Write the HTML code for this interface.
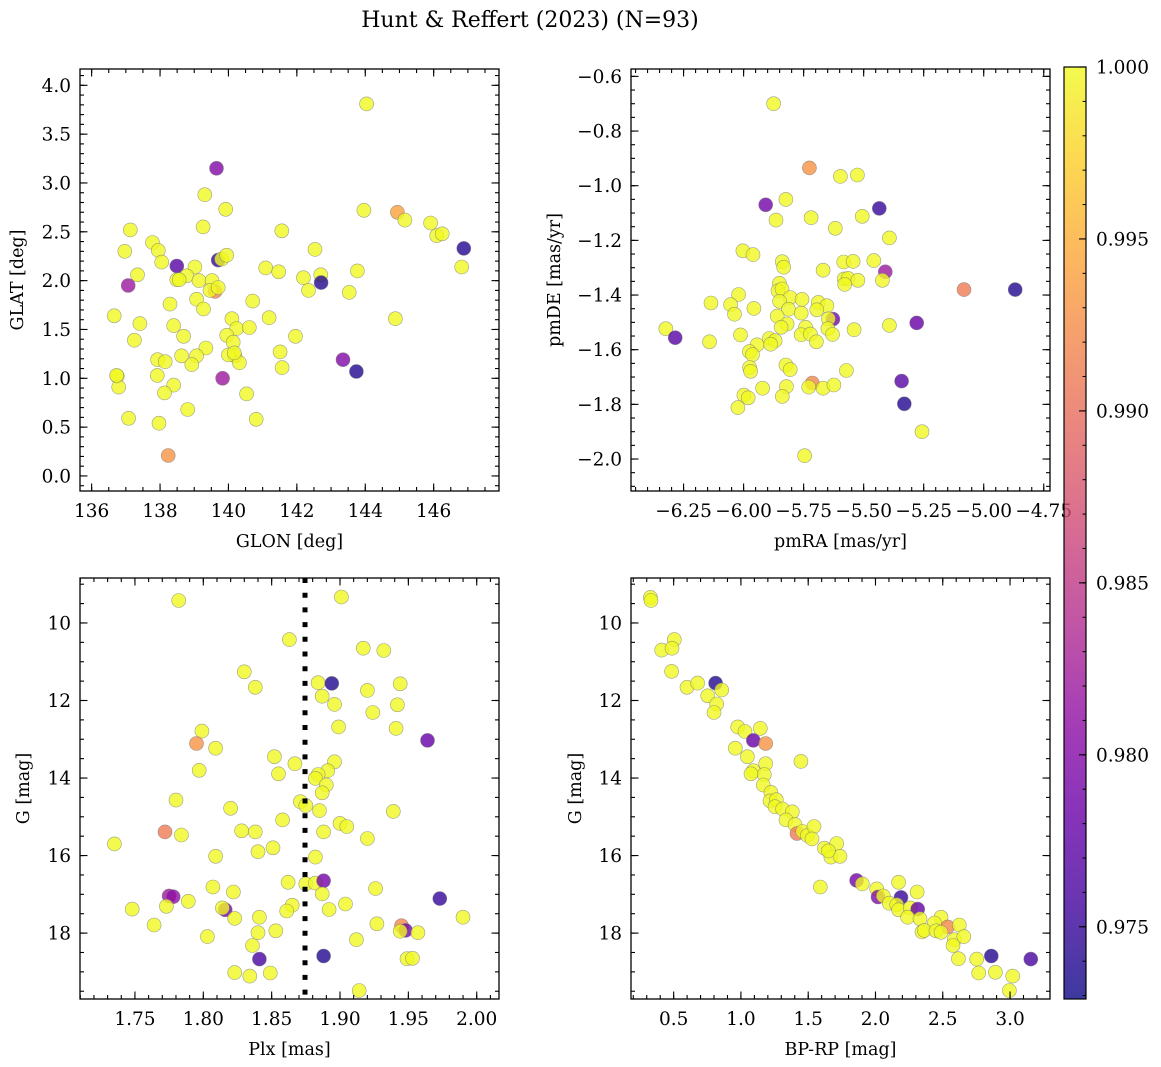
<!DOCTYPE html>
<html><head><meta charset="utf-8">
<style>
html,body{margin:0;padding:0;background:#fff;}
svg{display:block;font-family:"DejaVu Serif","Liberation Serif",serif;}
</style></head>
<body>
<svg id="fig" width="1161" height="1067" viewBox="0 0 1161 1067" xmlns="http://www.w3.org/2000/svg">
<text x="530" y="27" text-anchor="middle" font-size="22">Hunt &amp; Reffert (2023) (N=93)</text>
</svg>
<script>
// ---- Panel 1: GLON vs GLAT ----
const p1Lon=[144.04,139.65,139.31,139.92,143.96,144.94,145.16,145.91,146.09,146.25,146.88,146.82,139.26,137.13,141.56,137.78,137.95,136.97,138.05,142.53,139.70,139.80,139.95,138.49,139.02,138.78,137.34,141.09,141.47,142.19,142.70,142.71,143.77,142.34,143.53,137.07,138.49,138.56,139.14,139.52,139.61,139.46,139.70,140.71,139.07,138.29,139.27,136.66,144.88,140.10,141.19,140.24,140.61,137.41,138.40,138.69,141.96,139.95,140.14,137.25,139.34,141.51,140.19,139.07,138.63,137.93,138.15,140.32,138.93,141.57,143.35,143.74,136.75,136.79,137.92,139.83,138.40,138.13,140.53,138.81,137.08,140.81,137.97,138.24,136.73,140.00,140.17];
const p1Lat=[3.81,3.15,2.88,2.73,2.72,2.70,2.62,2.59,2.46,2.48,2.33,2.14,2.55,2.52,2.51,2.39,2.31,2.30,2.19,2.32,2.21,2.22,2.26,2.15,2.14,2.05,2.06,2.13,2.09,2.03,2.06,1.98,2.10,1.90,1.88,1.95,2.01,2.01,2.00,2.00,1.89,1.90,1.93,1.79,1.81,1.76,1.71,1.64,1.61,1.61,1.62,1.51,1.52,1.56,1.54,1.43,1.43,1.44,1.37,1.39,1.31,1.27,1.23,1.23,1.23,1.19,1.17,1.16,1.14,1.11,1.19,1.07,1.02,0.91,1.03,1.00,0.93,0.85,0.84,0.68,0.59,0.58,0.54,0.21,1.03,1.24,1.26];
const p1C=[1,0.980,1,1,1,0.994,1,1,1,1,0.974,1,1,1,1,1,1,1,1,1,0.975,1,1,0.977,1,1,1,1,1,1,1,0.974,1,1,1,0.982,1,1,1,1,0.992,1,1,1,1,1,1,1,1,1,1,1,1,1,1,1,1,1,1,1,1,1,1,1,1,1,1,1,1,1,0.980,0.974,1,1,1,0.982,1,1,1,1,1,1,1,0.993,1,1,1];
const p1XTicks=[136,138,140,142,144,146];
const p1YTicks=[0.0,0.5,1.0,1.5,2.0,2.5,3.0,3.5,4.0];

// ---- Panel 2: pmRA vs pmDE ----
const p2RA=[-5.875,-5.726,-5.597,-5.526,-5.908,-5.824,-5.435,-5.865,-5.719,-5.506,-5.618,-5.393,-6.003,-5.961,-5.839,-5.833,-5.669,-5.583,-5.544,-5.458,-5.410,-5.422,-5.581,-5.565,-5.524,-5.579,-5.082,-4.869,-5.851,-5.857,-5.840,-6.021,-6.136,-6.054,-6.038,-5.957,-5.806,-5.850,-5.757,-5.689,-5.653,-5.813,-5.760,-5.695,-5.860,-5.628,-5.647,-5.279,-5.393,-5.540,-6.324,-6.285,-6.142,-6.013,-5.819,-5.844,-5.742,-5.760,-5.722,-5.697,-5.649,-5.630,-5.944,-5.893,-5.869,-5.887,-5.976,-5.963,-5.975,-5.971,-5.824,-5.806,-5.572,-5.342,-5.714,-5.729,-5.669,-5.624,-5.822,-5.839,-5.921,-5.999,-5.981,-6.024,-5.331,-5.257,-5.746];
const p2DE=[-0.700,-0.935,-0.966,-0.961,-1.070,-1.050,-1.083,-1.126,-1.117,-1.112,-1.156,-1.191,-1.238,-1.252,-1.278,-1.298,-1.309,-1.279,-1.277,-1.274,-1.315,-1.346,-1.341,-1.339,-1.346,-1.361,-1.380,-1.380,-1.357,-1.384,-1.378,-1.398,-1.429,-1.435,-1.470,-1.449,-1.409,-1.423,-1.416,-1.427,-1.439,-1.452,-1.466,-1.454,-1.477,-1.488,-1.487,-1.502,-1.511,-1.527,-1.523,-1.556,-1.571,-1.546,-1.506,-1.518,-1.518,-1.545,-1.543,-1.571,-1.523,-1.544,-1.582,-1.559,-1.567,-1.580,-1.607,-1.618,-1.665,-1.679,-1.656,-1.673,-1.676,-1.715,-1.722,-1.737,-1.741,-1.729,-1.735,-1.771,-1.741,-1.766,-1.776,-1.812,-1.798,-1.900,-1.988];
const p2C=[1,0.993,1,1,0.979,1,0.975,1,1,1,1,1,1,1,1,1,1,1,1,1,0.982,1,1,1,1,1,0.991,0.974,1,1,1,1,1,1,1,1,1,1,1,1,1,1,1,1,1,0.979,1,0.978,1,1,1,0.977,1,1,1,1,1,1,1,1,1,1,1,1,1,1,1,1,1,1,1,1,1,0.977,0.992,1,1,1,1,1,1,1,1,1,0.974,1,1];
const p2XTicks=[-6.25,-6.00,-5.75,-5.50,-5.25,-5.00,-4.75];
const p2YTicks=[-2.0,-1.8,-1.6,-1.4,-1.2,-1.0,-0.8,-0.6];

// ---- Panel 3: Plx vs G ----
const p3Plx=[1.782,1.901,1.863,1.917,1.932,1.830,1.838,1.884,1.894,1.887,1.920,1.944,1.896,1.942,1.924,1.899,1.941,1.799,1.795,1.809,1.964,1.852,1.867,1.896,1.891,1.855,1.884,1.882,1.890,1.887,1.797,1.780,1.820,1.871,1.875,1.885,1.858,1.939,1.900,1.905,1.888,1.828,1.838,1.772,1.784,1.735,1.920,1.851,1.840,1.809,1.882,1.862,1.875,1.882,1.888,1.926,1.807,1.822,1.775,1.778,1.887,1.789,1.773,1.748,1.865,1.861,1.904,1.892,1.973,1.816,1.814,1.823,1.841,1.990,1.764,1.927,1.945,1.948,1.944,1.957,1.803,1.840,1.853,1.912,1.836,1.841,1.888,1.949,1.953,1.823,1.834,1.849,1.914];
const p3G=[9.42,9.33,10.43,10.65,10.71,11.26,11.66,11.54,11.56,11.89,11.74,11.57,12.10,12.11,12.31,12.68,12.72,12.79,13.11,13.23,13.03,13.45,13.63,13.58,13.81,13.89,13.91,14.01,14.18,14.38,13.80,14.57,14.78,14.61,14.71,14.84,15.08,14.86,15.17,15.25,15.39,15.36,15.39,15.39,15.47,15.70,15.56,15.80,15.90,16.02,16.04,16.69,16.73,16.71,16.65,16.85,16.81,16.94,17.04,17.06,16.99,17.18,17.31,17.38,17.28,17.43,17.25,17.39,17.11,17.40,17.35,17.62,17.59,17.59,17.79,17.76,17.81,17.93,17.95,17.99,18.09,17.99,17.94,18.17,18.32,18.67,18.59,18.66,18.65,19.02,19.11,19.03,19.48];
const p3C=[1,1,1,1,1,1,1,1,0.974,1,1,1,1,1,1,1,1,1,0.993,1,0.978,1,1,1,1,1,1,1,1,1,1,1,1,1,1,1,1,1,1,1,1,1,1,0.991,1,1,1,1,1,1,1,1,1,1,0.979,1,1,1,0.982,0.981,1,1,1,1,1,1,1,1,0.975,0.979,1,1,1,1,1,1,0.992,0.979,1,1,1,1,1,1,1,0.976,0.974,1,1,1,1,1,1];
const p3XTicks=[1.75,1.80,1.85,1.90,1.95,2.00];
const gTicks=[10,12,14,16,18];
const plxMedian=[1.8744];

// ---- Panel 4: BP-RP vs G ----
const p4BR=[0.327,0.332,0.505,0.411,0.488,0.485,0.599,0.678,0.812,0.857,0.753,0.820,0.800,0.976,1.030,1.144,1.092,1.184,0.958,1.048,1.446,1.184,1.092,1.075,1.174,1.166,1.223,1.216,1.263,1.253,1.310,1.382,1.335,1.402,1.417,1.459,1.494,1.543,1.528,1.620,1.712,1.669,1.736,1.650,1.590,1.860,1.902,2.009,2.172,2.309,2.019,2.058,2.190,2.103,2.158,2.172,2.259,2.314,2.239,2.331,2.487,2.438,2.537,2.623,2.346,2.363,2.450,2.487,2.586,2.656,2.576,2.616,2.752,2.861,3.154,2.767,2.891,3.020,2.995];
const p4G=[9.34,9.42,10.43,10.70,10.65,11.25,11.66,11.55,11.55,11.73,11.88,12.09,12.31,12.68,12.80,12.72,13.03,13.11,13.23,13.45,13.57,13.63,13.81,13.89,13.91,14.18,14.37,14.59,14.56,14.74,14.80,14.87,15.08,15.20,15.43,15.38,15.48,15.25,15.57,15.81,15.69,16.04,16.02,15.88,16.81,16.64,16.73,16.86,16.69,16.94,17.07,17.04,17.08,17.23,17.27,17.40,17.35,17.38,17.59,17.63,17.59,17.74,17.84,17.79,17.97,17.93,17.94,17.98,18.17,18.09,18.32,18.66,18.67,18.59,18.67,19.03,19.01,19.11,19.48];
const p4C=[1,1,1,1,1,1,1,1,0.974,1,1,1,1,1,1,1,0.978,0.993,1,1,1,1,1,1,1,1,1,1,1,1,1,1,1,1,0.991,1,1,1,1,1,1,1,1,1,1,0.979,1,1,1,1,0.980,1,0.975,1,1,1,1,0.978,1,1,1,1,0.992,1,1,1,1,1,1,1,1,1,1,0.974,0.976,1,1,1,1];
const p4XTicks=[0.5,1.0,1.5,2.0,2.5,3.0];

// ---- Colorbar ----
const cbTicks=[0.975,0.980,0.985,0.990,0.995,1.000];
const C_MIN=0.9729, C_MAX=1.0;

const NS="http://www.w3.org/2000/svg";
const svg=document.getElementById('fig');
const FS=18.5;
function mk(tag,attrs,parent){const e=document.createElementNS(NS,tag);for(const k in attrs)e.setAttribute(k,attrs[k]);(parent||svg).appendChild(e);return e;}

const plasma=[[13,8,135],[65,4,157],[106,0,168],[143,13,164],[177,42,144],[204,71,120],[225,100,98],[242,132,75],[252,166,54],[252,206,37],[240,249,33]];
function cmap(t){t=Math.max(0,Math.min(1,t));const f=t*10,i=Math.min(9,Math.floor(f)),r=f-i;const a=plasma[i],b=plasma[i+1];return `rgb(${Math.round(a[0]+(b[0]-a[0])*r)},${Math.round(a[1]+(b[1]-a[1])*r)},${Math.round(a[2]+(b[2]-a[2])*r)})`;}
function cnorm(v){return (v-C_MIN)/(C_MAX-C_MIN);}
function fmt(v,d){const s=Math.abs(v).toFixed(d);return (v<-1e-9?'\u2212':'')+s;}

function axes(o){
  const g=mk('g',{});
  
  
  const sx=v=>o.x0+(v-o.xmin)/(o.xmax-o.xmin)*(o.x1-o.x0);
  const sy=o.yinv?(v=>o.y0+(v-o.ymin)/(o.ymax-o.ymin)*(o.y1-o.y0)):(v=>o.y1-(v-o.ymin)/(o.ymax-o.ymin)*(o.y1-o.y0));
  const clipId='clip-'+o.name;
  const cp=mk('clipPath',{id:clipId},g);mk('rect',{x:o.x0,y:o.y0,width:o.x1-o.x0,height:o.y1-o.y0},cp);
  const pts=mk('g',{'clip-path':`url(#${clipId})`},g);
  
  
  for(let i=0;i<o.xs.length;i++){
    const c=mk('circle',{cx:sx(o.xs[i]).toFixed(1),cy:sy(o.ys[i]).toFixed(1),r:7,fill:cmap(cnorm(o.cs[i])),'fill-opacity':0.8,stroke:'#777','stroke-opacity':0.7,'stroke-width':0.6},pts);
    
    
  }
  if(o.vline){for(const v of o.vline){const l=mk('line',{x1:sx(v),x2:sx(v),y1:o.y0,y2:o.y1,stroke:'#000','stroke-width':5,'stroke-dasharray':'5 9.7'},g);
    
    }}
  const tk=mk('g',{stroke:'#000','stroke-width':1.1},g);
  
  
  for(let v=Math.ceil(o.xmin/o.xminor)*o.xminor;v<=o.xmax;v+=o.xminor){const X=sx(v);mk('line',{x1:X,x2:X,y1:o.y1,y2:o.y1-4},tk);mk('line',{x1:X,x2:X,y1:o.y0,y2:o.y0+4},tk);}
  for(let v=Math.ceil(o.ymin/o.yminor)*o.yminor;v<=o.ymax;v+=o.yminor){const Y=sy(v);mk('line',{x1:o.x0,x2:o.x0+4,y1:Y,y2:Y},tk);mk('line',{x1:o.x1,x2:o.x1-4,y1:Y,y2:Y},tk);}
  for(const v of o.xt){const X=sx(v);mk('line',{x1:X,x2:X,y1:o.y1,y2:o.y1-7.5},tk);mk('line',{x1:X,x2:X,y1:o.y0,y2:o.y0+7.5},tk);
    const t=mk('text',{x:X,y:o.y1+26,'text-anchor':'middle','font-size':FS},g);t.textContent=fmt(v,o.xd);
    
    }
  for(const v of o.yt){const Y=sy(v);mk('line',{x1:o.x0,x2:o.x0+7.5,y1:Y,y2:Y},tk);mk('line',{x1:o.x1,x2:o.x1-7.5,y1:Y,y2:Y},tk);
    const t=mk('text',{x:o.x0-9,y:Y+6.5,'text-anchor':'end','font-size':FS},g);t.textContent=fmt(v,o.yd);
    
    }
  const fr=mk('rect',{x:o.x0,y:o.y0,width:o.x1-o.x0,height:o.y1-o.y0,fill:'none',stroke:'#000','stroke-width':1.3},g);
  
  
  const xl=mk('text',{x:(o.x0+o.x1)/2,y:o.y1+56,'text-anchor':'middle','font-size':17.5},g);xl.textContent=o.xlabel;
  
  
  const yl=mk('text',{x:0,y:0,'text-anchor':'middle','font-size':17.5,transform:`translate(${o.ylx},${(o.y0+o.y1)/2}) rotate(-90)`},g);yl.textContent=o.ylabel;
  
  
}

axes({name:'panel-glon-glat',x0:80,x1:499,y0:69,y1:491,xmin:135.66,xmax:147.91,ymin:-0.154,ymax:4.167,xs:p1Lon,ys:p1Lat,cs:p1C,xt:p1XTicks,yt:p1YTicks,xd:0,yd:1,xminor:0.5,yminor:0.1,xlabel:'GLON [deg]',ylabel:'GLAT [deg]',ylx:23});
axes({name:'panel-pmra-pmde',x0:631,x1:1050,y0:69,y1:491,xmin:-6.469,xmax:-4.724,ymin:-2.117,ymax:-0.573,xs:p2RA,ys:p2DE,cs:p2C,xt:p2XTicks,yt:p2YTicks,xd:2,yd:1,xminor:0.05,yminor:0.05,xlabel:'pmRA [mas/yr]',ylabel:'pmDE [mas/yr]',ylx:560});
axes({name:'panel-plx-g',x0:80,x1:499,y0:578,y1:999,xmin:1.7098,xmax:2.0163,ymin:8.84,ymax:19.70,yinv:true,xs:p3Plx,ys:p3G,cs:p3C,xt:p3XTicks,yt:gTicks,xd:2,yd:0,xminor:0.01,yminor:0.5,xlabel:'Plx [mas]',ylabel:'G [mag]',ylx:29,vline:plxMedian});
axes({name:'panel-bprp-g',x0:631,x1:1050,y0:578,y1:999,xmin:0.183,xmax:3.297,ymin:8.84,ymax:19.70,yinv:true,xs:p4BR,ys:p4G,cs:p4C,xt:p4XTicks,yt:gTicks,xd:1,yd:0,xminor:0.1,yminor:0.5,xlabel:'BP-RP [mag]',ylabel:'G [mag]',ylx:581});

(function(){
  const x0=1064,x1=1086,y0=67,y1=999;
  const g=mk('g',{});
  
  
  const defs=mk('defs',{},g);
  const lg=mk('linearGradient',{id:'cbgrad',x1:0,y1:1,x2:0,y2:0},defs);
  for(let i=0;i<=10;i++)mk('stop',{offset:i/10,'stop-color':cmap(i/10),'stop-opacity':0.8},lg);
  mk('rect',{x:x0,y:y0,width:x1-x0,height:y1-y0,fill:'url(#cbgrad)',stroke:'#000','stroke-width':1.2},g);
  const sy=v=>y1-(v-C_MIN)/(C_MAX-C_MIN)*(y1-y0);
  for(let v=0.973;v<=1.0001;v+=0.001){const Y=sy(v);mk('line',{x1:x1,x2:x1-3.5,y1:Y,y2:Y,stroke:'#000','stroke-width':1},g);}
  for(const v of cbTicks){const Y=sy(v);mk('line',{x1:x1,x2:x1-7,y1:Y,y2:Y,stroke:'#000','stroke-width':1.1},g);
    const t=mk('text',{x:1096,y:Y+6.5,'font-size':FS},g);t.textContent=v.toFixed(3);
    
    }
})();
</script>
</body></html>
